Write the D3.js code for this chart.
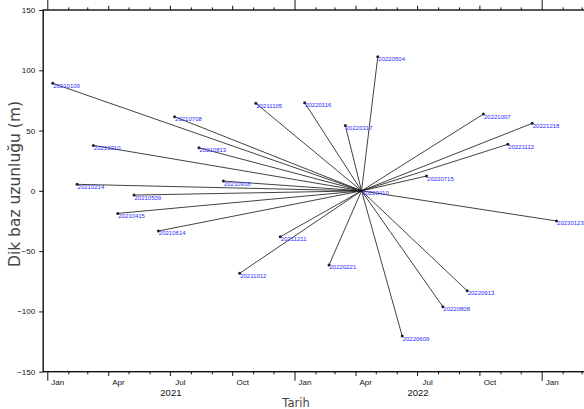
<!DOCTYPE html>
<html><head><meta charset="utf-8">
<script src="https://cdn.jsdelivr.net/npm/d3@7"></script>
<style>
html,body{margin:0;padding:0;background:#fff;}
svg{display:block;}
</style></head>
<body>
<svg id="chart" width="584" height="409"></svg>
<script>
// ---- data ----
const masterDate = "20220410";
const masterPerp = 0;
const dates = ["20210109","20210214","20210310","20210415","20210509","20210614","20210708","20210813",
  "20210918","20211012","20211105","20211211","20220116","20220221","20220317","20220504",
  "20220609","20220715","20220808","20220913","20221007","20221112","20221218","20230123"];
const perp = [89.2, 5.4, 37.7, -18.7, -3.5, -33.3, 61.5, 35.7,
  8.1, -68.4, 72.6, -38.1, 73.1, -61.5, 54.3, 111.2,
  -120.4, 12.3, -96.1, -82.9, 63.7, 38.6, 56.0, -25.0];
const yTicks = [-150, -100, -50, 0, 50, 100, 150];
const monthLabels = ["Jan","Feb","Mar","Apr","May","Jun","Jul","Aug","Sep","Oct","Nov","Dec"];
const yearLabels = ["2021","2022"];
const xLabel = "Tarih";
const yLabel = "Dik baz uzunluğu (m)";

(function(){
const parse = d3.utcParse("%Y%m%d");
const svg = d3.select("#chart");
const pLeft = 43.2, pRight = 600, pTop = 10, pBottom = 371.7;

const x = d3.scaleUtc()
  .domain([new Date(Date.UTC(2021,0,1)), new Date(Date.UTC(2023,0,1))])
  .range([47.3, 541.7]);
const y = d3.scaleLinear().domain([-150,150]).range([pBottom, pTop]);

const xStart = x.invert(pLeft), xEnd = x.invert(pRight);
const months = d3.utcMonth.range(d3.utcMonth.ceil(xStart), xEnd);

const font = "'Liberation Sans', Arial, Helvetica, sans-serif";

const master = {d: parse(masterDate), p: masterPerp};
const pts = dates.map((d,i)=>({s:d, d:parse(d), p:perp[i]}));

const g = svg.append("g");
g.selectAll("line.bl").data(pts).join("line")
  .attr("x1", x(master.d)).attr("y1", y(master.p))
  .attr("x2", d=>x(d.d)).attr("y2", d=>y(d.p))
  .attr("stroke","#111").attr("stroke-width",0.8);

g.selectAll("circle.pt").data(pts).join("circle")
  .attr("cx", d=>x(d.d)).attr("cy", d=>y(d.p)).attr("r",1.5)
  .attr("fill","#222");

g.selectAll("text.lab").data(pts.concat([{s:masterDate,d:master.d,p:master.p}])).join("text")
  .attr("x", d=>x(d.d)+0.5).attr("y", d=>y(d.p)+4.5)
  .attr("font-family", font).attr("font-size", 6).attr("fill","#2a2aff")
  .text(d=>d.s);

svg.append("rect").attr("x",pLeft).attr("y",pTop).attr("width",pRight-pLeft).attr("height",pBottom-pTop)
  .attr("fill","none").attr("stroke","#111").attr("stroke-width",1.4);

function tickLen(d, pos){
  const m = d.getUTCMonth();
  if (m===0) return pos==="top"?11:9;
  if (m%3===0) return 4.3;
  return 2.6;
}
const bx = svg.append("g").attr("transform",`translate(0,${pBottom})`)
  .call(d3.axisBottom(x).tickValues(months).tickFormat("").tickSizeOuter(0));
bx.select(".domain").remove();
bx.selectAll(".tick line").attr("y2", d=>tickLen(d,"bottom")).attr("stroke","#111").attr("stroke-width",1);
const tx = svg.append("g").attr("transform",`translate(0,${pTop})`)
  .call(d3.axisTop(x).tickValues(months).tickFormat("").tickSizeOuter(0));
tx.select(".domain").remove();
tx.selectAll(".tick line").attr("y2", d=>-tickLen(d,"top")).attr("stroke","#111").attr("stroke-width",1);

const labMonths = months.filter(d=>d.getUTCMonth()%3===0 && x(d3.utcMonth.offset(d,1)) < 584);
svg.append("g").selectAll("text").data(labMonths).join("text")
  .attr("x", d=>(x(d)+x(d3.utcMonth.offset(d,1)))/2).attr("y", 384.5)
  .attr("text-anchor","middle").attr("font-family",font).attr("font-size",8).attr("fill","#111")
  .text(d=>monthLabels[d.getUTCMonth()]);
svg.append("g").selectAll("text").data(yearLabels).join("text")
  .attr("x", d=>{const a=new Date(Date.UTC(+d,0,1)), b=new Date(Date.UTC(+d+1,0,1)); return (x(a)+x(b))/2;})
  .attr("y", 395.5)
  .attr("text-anchor","middle").attr("font-family",font).attr("font-size",9.5).attr("fill","#111")
  .text(d=>d);

const ya = svg.append("g").attr("transform",`translate(${pLeft},0)`)
  .call(d3.axisLeft(y).tickValues(yTicks).tickSize(4).tickSizeOuter(0)
    .tickFormat(d=> d<0 ? "\u2212"+Math.abs(d) : String(d)));
ya.select(".domain").remove();
ya.selectAll(".tick line").attr("stroke","#111");
ya.selectAll(".tick text").attr("font-family",font).attr("font-size",8).attr("fill","#111").attr("x",-8);

svg.append("text").attr("x",296).attr("y",406.5).attr("text-anchor","middle")
  .attr("font-family","'DejaVu Sans', sans-serif").attr("font-size",11.5).attr("fill","#444").text(xLabel);
svg.append("text").attr("transform","translate(20,184) rotate(-90)").attr("text-anchor","middle")
  .attr("font-family","'DejaVu Sans', sans-serif").attr("font-size",15.5).attr("fill","#444").text(yLabel);
})();
</script>
</body></html>
